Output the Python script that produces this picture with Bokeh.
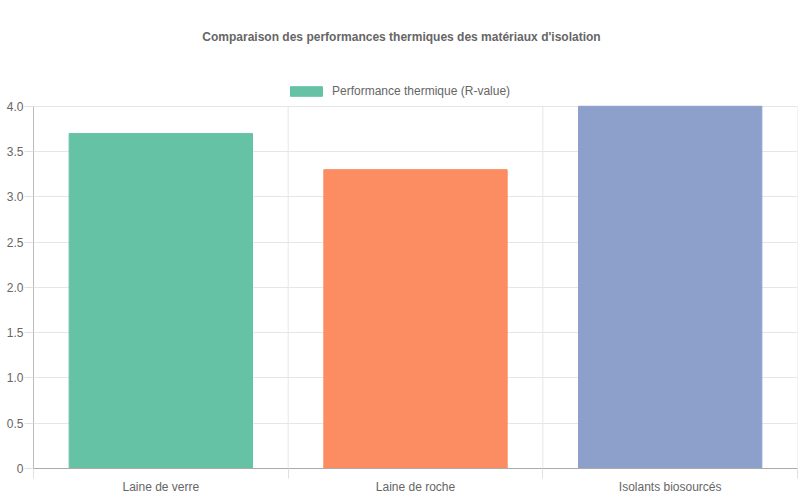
from bokeh.plotting import figure
from bokeh.models import (ColumnDataSource, FixedTicker, Legend, LegendItem, Range1d, Label)
from bokeh.embed import file_html
from bokeh.resources import INLINE

categories = ["Laine de verre", "Laine de roche", "Isolants biosourcés"]
values = [3.7, 3.3, 4.0]
colors = ["#66c2a5", "#fc8d62", "#8da0cb"]
series_name = "Performance thermique (R-value)"
title_text = "Comparaison des performances thermiques des matériaux d'isolation"
y_ticks = [0, 0.5, 1.0, 1.5, 2.0, 2.5, 3.0, 3.5, 4.0]

FONT = "Liberation Sans"
TXT = "#666666"
Y_MAX = 4.0

W, H = 798, 496
BL, BR, BB = 33, 1, 27
FRAME_H = H - BB
FRAME_W = W - BL - BR
TOP_PX = 106             # pixel row of the 4.0 line inside the figure
px_per_unit = (FRAME_H - TOP_PX) / Y_MAX
px_per_cat = FRAME_W / len(categories)
Y_END = FRAME_H / px_per_unit

xs = [i + 0.5 for i in range(len(categories))]
bounds_x = list(range(len(categories) + 1))
src = ColumnDataSource(dict(x=xs, top=values, color=colors, name=categories))

p = figure(width=W, height=H, output_backend="svg", toolbar_location=None, title=None,
           x_range=Range1d(0, len(categories)), y_range=Range1d(0, Y_END),
           min_border_left=BL, min_border_right=BR, min_border_top=0, min_border_bottom=BB)
p.outline_line_color = None

# vertical grid lines at category boundaries, only up to the top of the value axis
p.xgrid.visible = False
p.segment(x0=bounds_x, y0=[0] * len(bounds_x), x1=bounds_x, y1=[Y_MAX] * len(bounds_x),
          line_color="#e6e6e6", line_width=1)

r = p.vbar(x="x", top="top", width=0.72, bottom=0, color="color", source=src)

# title
title = Label(x=(401 - BL) / px_per_cat, y=(FRAME_H - 37) / px_per_unit, text=title_text,
              text_align="center", text_baseline="middle",
              text_font=FONT, text_font_size="12px", text_font_style="bold",
              text_color=TXT)
p.add_layout(title)

legend = Legend(items=[LegendItem(label=series_name, renderers=[r], index=0)],
                orientation="horizontal", location=(286 - BL, FRAME_H - 90 - 9),
                glyph_width=40, glyph_height=12,
                label_text_font=FONT, label_text_font_size="12px", label_text_color=TXT,
                border_line_color=None, background_fill_alpha=0,
                padding=0, margin=0, spacing=0, label_standoff=6, label_height=12)
p.add_layout(legend)

# x axis
xa = p.xaxis[0]
xa.ticker = FixedTicker(ticks=xs, minor_ticks=bounds_x)
xa.major_label_overrides = {x: c for x, c in zip(xs, categories)}
xa.major_tick_out = 0
xa.major_tick_in = 0
xa.minor_tick_out = 10
xa.minor_tick_in = 0
xa.minor_tick_line_color = "#e0e0e0"
xa.axis_line_color = "#aaaaaa"
xa.major_label_text_font = FONT
xa.major_label_text_font_size = "12px"
xa.major_label_text_color = TXT
xa.major_label_standoff = 1

# y axis
ya = p.yaxis[0]
ya.bounds = (0, Y_MAX)
ya.ticker = FixedTicker(ticks=y_ticks)
ya.major_label_overrides = {t: ("0" if t == 0 else f"{t:.1f}") for t in y_ticks}
ya.major_tick_out = 9
ya.major_tick_in = 0
ya.minor_tick_out = 0
ya.minor_tick_in = 0
ya.major_tick_line_color = "#e0e0e0"
ya.axis_line_color = "#bbbbbb"
ya.major_label_text_font = FONT
ya.major_label_text_font_size = "12px"
ya.major_label_text_color = TXT
ya.major_label_standoff = 1
p.ygrid.grid_line_color = "#e6e6e6"

open("out.html", "w").write(file_html(p, INLINE))
